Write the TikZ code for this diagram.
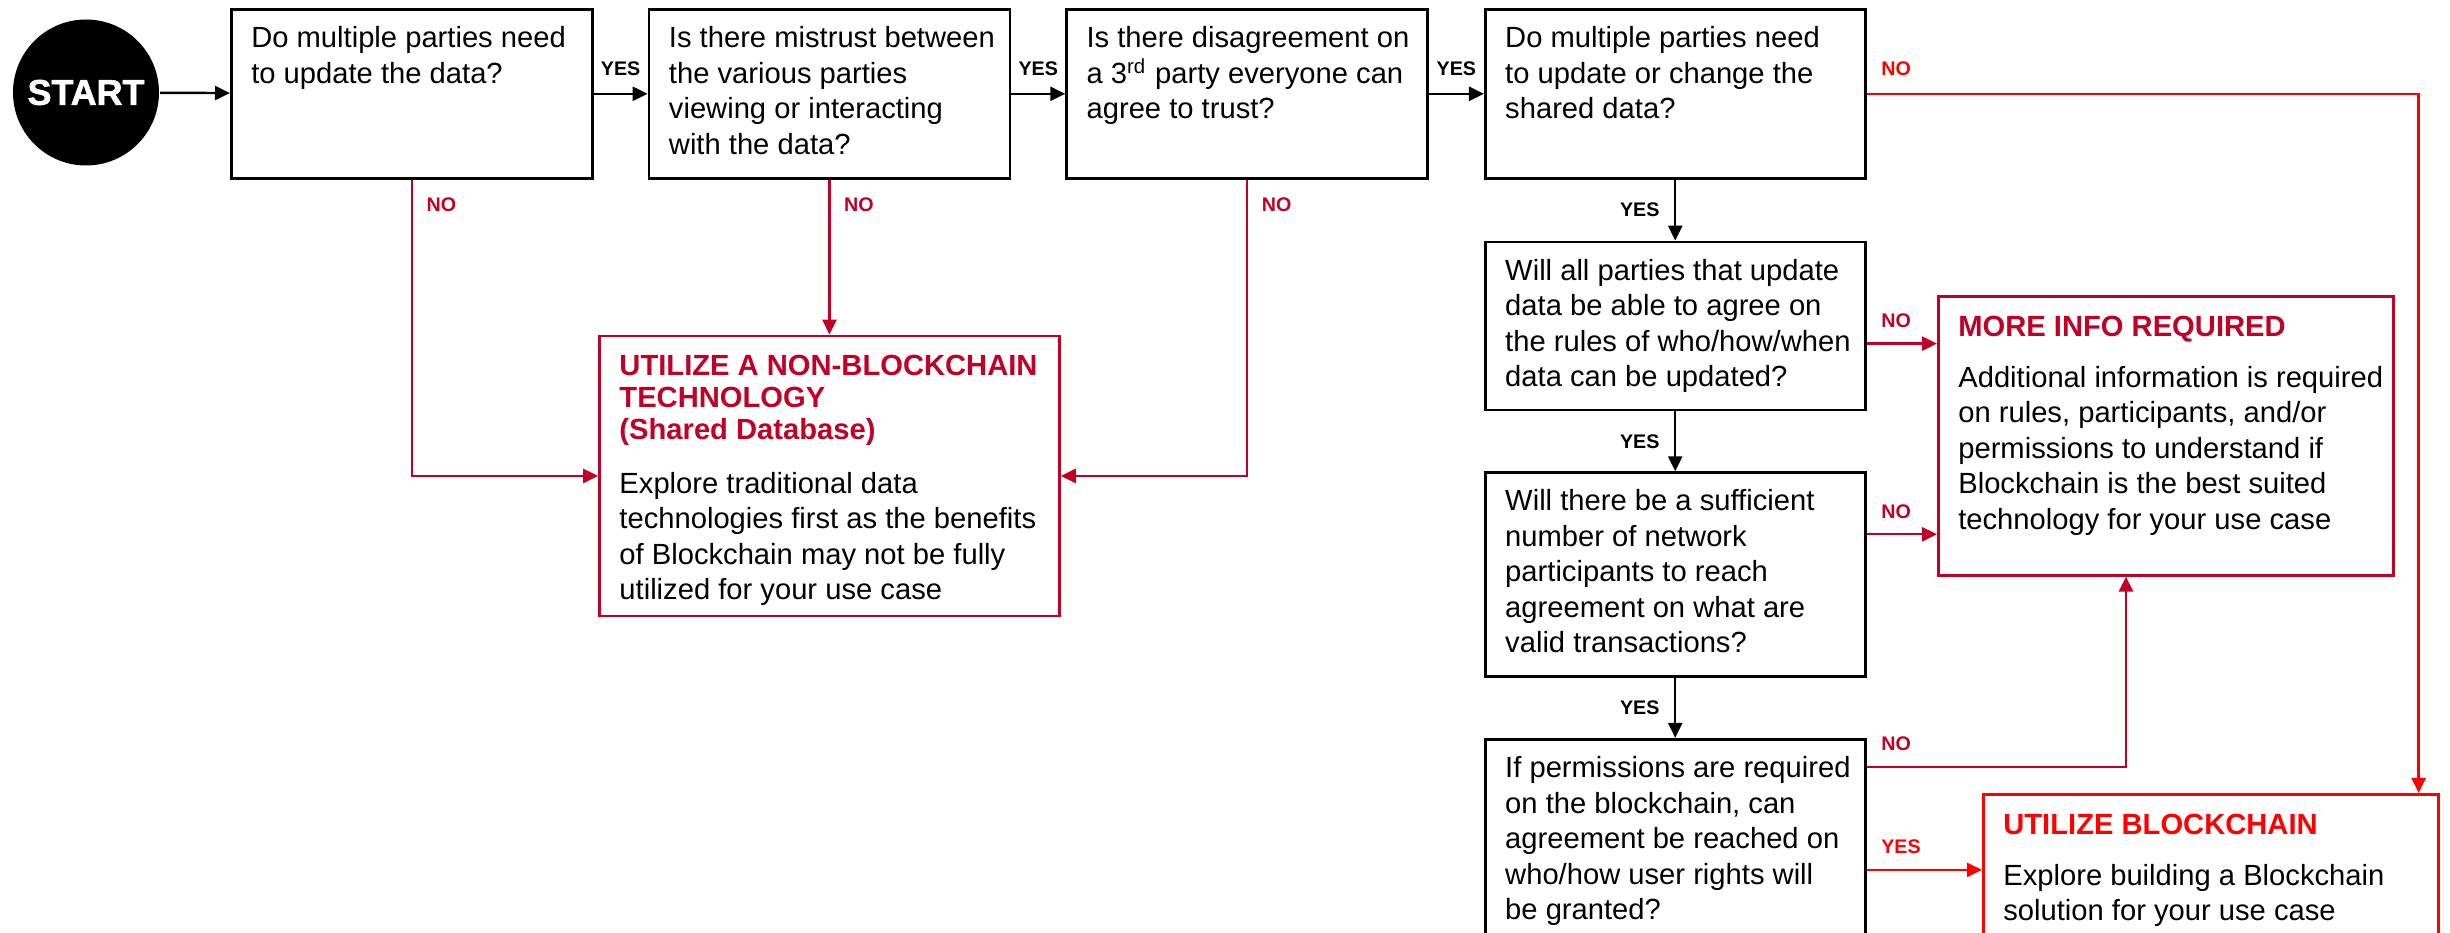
\documentclass[tikz,border=0pt]{standalone}
\usepackage{fontspec}
\setmainfont{Liberation Sans}
\newfontfamily\heavyfont{Liberation Sans}[BoldFeatures={FakeBold=1.6}]
\usetikzlibrary{arrows.meta,positioning}

\definecolor{nored}{RGB}{192,0,36}
\definecolor{hotred}{RGB}{255,0,0}

% top aligned question text: width, height, lines
\newcommand{\qtext}[3]{\parbox[t][#2][t]{#1}{\begin{tabular}[t]{@{}l@{}}#3\end{tabular}}}
% outcome text: width, height, colour, title lines, body lines
\newcommand{\otext}[5]{\parbox[t][#2][t]{#1}{{\fontsize{8.3}{9.1}\selectfont\color{#3}\bfseries
  \begin{tabular}[t]{@{}l@{}}\rule{0pt}{7.5pt}#4\end{tabular}\par}\vspace{4.4pt}\begin{tabular}[t]{@{}l@{}}#5\end{tabular}}}

\begin{document}
\begin{tikzpicture}[>={Triangle[length=1.5mm,width=1.4mm]}, line width=0.7pt,
    question/.style={draw, line width=0.75pt, inner xsep=0.2cm, inner ysep=0.135cm, font=\fontsize{8.3}{10.1}\selectfont},
    startnode/.style={circle, fill=black, text=white, minimum size=1.46cm, inner sep=0pt, font=\heavyfont\bfseries\fontsize{10.2}{11}\selectfont},
    tag/.style={inner sep=1pt, font=\bfseries\fontsize{5.6}{6}\selectfont}]
  \useasboundingbox (0,0) rectangle (24.5,-9.33);
  \clip (0,0) rectangle (24.5,-9.33);

  \node[startnode] (start) at (0.86,-0.925) {START};
  \node[question, anchor=north west] (q1) at (2.30,-0.08) {\qtext{3.21cm}{1.42cm}{Do multiple parties need\\to update the data?}};
  \node[question, right=0.54cm of q1] (q2) {\qtext{3.21cm}{1.42cm}{Is there mistrust between\\the various parties\\viewing or interacting\\with the data?}};
  \node[question, right=0.54cm of q2] (q3) {\qtext{3.21cm}{1.42cm}{Is there disagreement on\\a 3\textsuperscript{rd} party everyone can\\agree to trust?}};
  \node[question, right=0.55cm of q3] (q4) {\qtext{3.40cm}{1.42cm}{Do multiple parties need\\to update or change the\\shared data?}};
  \node[question, below=0.61cm of q4] (q5) {\qtext{3.40cm}{1.41cm}{Will all parties that update\\data be able to agree on\\the rules of who/how/when\\data can be updated?}};
  \node[question, below=0.60cm of q5] (q6) {\qtext{3.40cm}{1.77cm}{Will there be a sufficient\\number of network\\participants to reach\\agreement on what are\\valid transactions?}};
  \node[question, below=0.60cm of q6] (q7) {\qtext{3.40cm}{2.03cm}{If permissions are required\\on the blockchain, can\\agreement be reached on\\who/how user rights will\\be granted?}};

  \node[question, draw=nored, below=1.55cm of q2] (nb) {\otext{4.2cm}{2.53cm}{nored}{UTILIZE A NON-BLOCKCHAIN\\TECHNOLOGY\\(Shared Database)}{Explore traditional data\\technologies first as the benefits\\of Blockchain may not be fully\\utilized for your use case}};
  \node[question, draw=nored, anchor=north west] (mi) at (19.37,-2.95) {\otext{4.15cm}{2.52cm}{nored}{MORE INFO REQUIRED}{Additional information is required\\on rules, participants, and/or\\permissions to understand if\\Blockchain is the best suited\\technology for your use case}};
  \node[question, draw=hotred, anchor=north west] (ub) at (19.82,-7.93) {\otext{4.15cm}{1.63cm}{hotred}{UTILIZE BLOCKCHAIN}{Explore building a Blockchain\\solution for your use case}};

  \coordinate (ubin) at ([xshift=-2.1mm]ub.north east);
  \coordinate (miin) at ([xshift=1.89cm]mi.south west);
  \coordinate (n5) at ([yshift=-1.03cm]q5.north east);
  \coordinate (n6) at ([yshift=-0.63cm]q6.north east);
  \coordinate (n7) at ([yshift=-0.29cm]q7.north east);
  \coordinate (y7) at ([yshift=-1.32cm]q7.north east);

  % yes path
  \draw[->] (start) -- (q1);
  \draw[->] (q1) -- node[tag, above=1.3mm] {YES} (q2);
  \draw[->] (q2) -- node[tag, above=1.3mm] {YES} (q3);
  \draw[->] (q3) -- node[tag, above=1.3mm] {YES} (q4);
  \draw[->] (q4) -- node[tag, left=1.1mm] {YES} (q5);
  \draw[->] (q5) -- node[tag, left=1.1mm] {YES} (q6);
  \draw[->] (q6) -- node[tag, left=1.1mm] {YES} (q7);
  \draw[hotred, ->] (y7) -- node[tag, above right=1.1mm and 1mm, pos=0] {YES} (y7 -| ub.west);

  % no paths
  \draw[nored, ->] (q1) -- node[tag, right=1mm, pos=0.085] {NO} (q1 |- nb) -- (nb);
  \draw[nored, ->] (q2) -- node[tag, right=1mm, pos=0.16] {NO} (nb);
  \draw[nored, ->] (q3) -- node[tag, right=1mm, pos=0.085] {NO} (q3 |- nb) -- (nb);
  \draw[hotred, ->] (q4) -- node[tag, above right=1.35mm and 1mm, pos=0] {NO} (q4 -| ubin) -- (ubin);
  \draw[nored, ->] (n5) -- node[tag, above right=1.1mm and 1mm, pos=0] {NO} (n5 -| mi.west);
  \draw[nored, ->] (n6) -- node[tag, above right=1.1mm and 1mm, pos=0] {NO} (n6 -| mi.west);
  \draw[nored, ->] (n7) -- node[tag, above right=1.1mm and 1mm, pos=0] {NO} (n7 -| miin) -- (miin);
\end{tikzpicture}
\end{document}
